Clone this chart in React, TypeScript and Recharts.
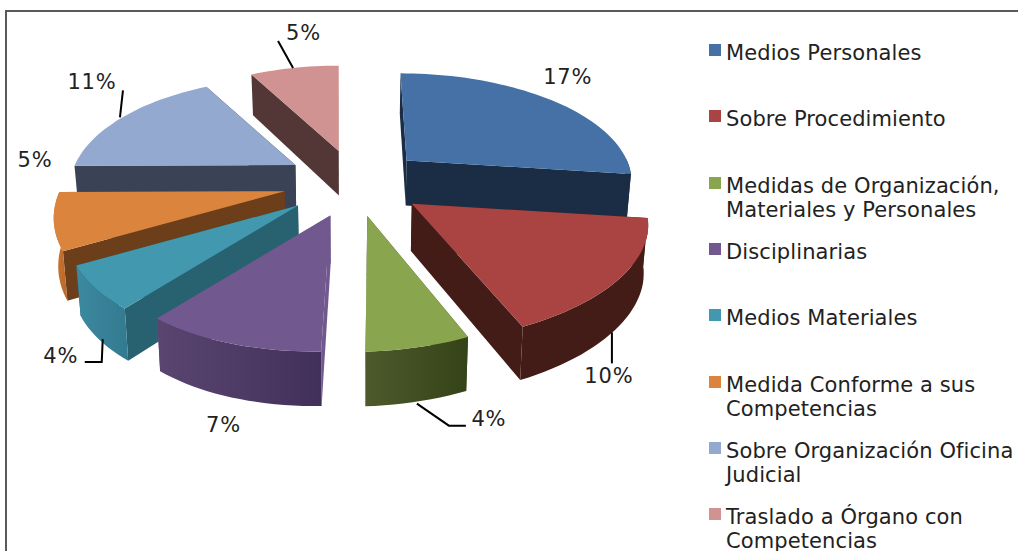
import { PieChart, Pie, Legend } from 'recharts';

const CATEGORIES = [
  'Medios Personales',
  'Sobre Procedimiento',
  'Medidas de Organización, Materiales y Personales',
  'Disciplinarias',
  'Medios Materiales',
  'Medida Conforme a sus Competencias',
  'Sobre Organización Oficina Judicial',
  'Traslado a Órgano con Competencias',
];
const PERCENTS = [17, 10, 4, 7, 4, 5, 11, 5];

const TOP_COLORS = ['#4571A7', '#A94442', '#89A54E', '#71588F', '#4198AF', '#DB843D', '#93A9CF', '#D19392'];
const CUT_COLORS = ['#1A2D45', '#431C18', '#3E4A22', '#71588F', '#28616F', '#6C3F1A', '#3A4256', '#533737'];
const RIM_LIGHT = ['#1A2D45', '#431C18', '#4C5A2C', '#5A4571', '#3C89A0', '#C9762F', '#3A4256', '#533737'];
const RIM_DARK = ['#1A2D45', '#431C18', '#354318', '#41305A', '#337A90', '#B8692A', '#3A4256', '#533737'];

// slices are painted back to front
const PAINT_ORDER = [7, 6, 0, 5, 1, 4, 3, 2];

// small per-slice corrections of the 3d look: shift of the tip, radius factor,
// lean of the far rim, and degrees taken off the start / added to the end
const SLICE_TUNE = [
  { dx: 2, dy: 0, scale: 0.98, back: 6, start: 0, end: 0 },
  { dx: 3, dy: 1, scale: 1.03, back: 0, start: 0, end: 0 },
  { dx: -2, dy: 0, scale: 1, back: 0, start: 1.5, end: 0 },
  { dx: -1, dy: 0, scale: 1, back: 0, start: 1.5, end: 0 },
  { dx: -1.5, dy: 0, scale: 1, back: 0, start: 0, end: 0 },
  { dx: 0, dy: -1, scale: 1, back: 0, start: 0, end: 1 },
  { dx: 4, dy: -1, scale: 0.98, back: 0, start: 1, end: 0 },
  { dx: 4, dy: 1, scale: 0.96, back: 0, start: 0, end: 0 },
];

// label position relative to the rim at mid angle, plus optional leader line
const LABEL_PLACES: { dx: number; dy: number; leader?: number[][] }[] = [
  { dx: 15, dy: -21 },
  { dx: -8, dy: 102, leader: [[-5, 58], [-5, 89]] },
  { dx: 50, dy: 72, leader: [[-22, 57], [10, 79], [27, 79]] },
  { dx: -25, dy: 81 },
  { dx: -43, dy: 68, leader: [[-1, 51], [-2, 74], [-19, 74]] },
  { dx: -20, dy: -63 },
  { dx: -23, dy: -35, leader: [[5, 0], [8, -27]] },
  { dx: 15, dy: -30, leader: [[4.5, 4.6], [-10.5, -22.4]] },
];

const pieData = CATEGORIES.map((name, i) => ({ name, value: PERCENTS[i], fill: TOP_COLORS[i] }));

const FONT = '"DejaVu Sans", Verdana, sans-serif';
const TILT = 0.478;
const PERSPECTIVE = 0.209;
const EXPLODE_X = 70;
const EXPLODE_Y = 34;
const LEAN = 0.985;
const FRONT_SKEW = 16;

type Pt = [number, number];

// pie angle (math convention) to clockwise-from-north radians
const toRad = (angle: number) => ((90 - angle) * Math.PI) / 180;

function apexOf(cx: number, cy: number, midAngle: number): Pt {
  const a = toRad(midAngle);
  return [cx + EXPLODE_X * Math.sin(a), cy - EXPLODE_Y * Math.cos(a)];
}

function rimPoint(apex: Pt, radius: number, angle: number, skew = 0, back = 0): Pt {
  const a = toRad(angle);
  const x = Math.sin(a);
  const y = Math.cos(a);
  const w = 1 + PERSPECTIVE * y;
  const lean = y < 0 ? skew * y * y : back * y * y;
  return [apex[0] + (radius * x) / w - lean, apex[1] - (radius * TILT * y) / w];
}

const drop = (cx: number, p: Pt): Pt => [cx + (p[0] - cx) * LEAN, p[1] + 37 + 0.05 * p[1]];
const toPath = (pts: Pt[]) => 'M' + pts.map((p) => `${p[0].toFixed(1)},${p[1].toFixed(1)}`).join('L') + 'Z';

function Slice(props: any) {
  const { cx, cy, outerRadius, name } = props;
  const i = CATEGORIES.indexOf(name);
  const tune = SLICE_TUNE[i];
  const mid = (props.startAngle + props.endAngle) / 2;
  const startAngle = props.startAngle - tune.start;
  const endAngle = props.endAngle - tune.end;
  const base = apexOf(cx, cy, mid);
  const apex: Pt = [base[0] + tune.dx, base[1] + tune.dy];
  const radius = outerRadius * tune.scale;

  const arc: Pt[] = [];
  const steps = Math.max(4, Math.ceil(Math.abs(startAngle - endAngle) / 2));
  for (let s = 0; s <= steps; s++) {
    arc.push(rimPoint(apex, radius, startAngle + ((endAngle - startAngle) * s) / steps, FRONT_SKEW, tune.back));
  }
  // only the part of the rim that faces the viewer gets a wall
  const front = arc.filter((p, s) => {
    const a = startAngle + ((endAngle - startAngle) * s) / steps;
    return Math.sin((a * Math.PI) / 180) < 0.02;
  });

  const first = arc[0];
  const last = arc[arc.length - 1];
  const gradId = `rim-${i}`;

  return (
    <g>
      <defs>
        <linearGradient id={gradId} x1="0" x2="1" y1="0" y2="0">
          <stop offset="0%" stopColor={RIM_LIGHT[i]} />
          <stop offset="100%" stopColor={RIM_DARK[i]} />
        </linearGradient>
      </defs>
      <path d={toPath([apex, first, drop(cx, first), drop(cx, apex)])} fill={CUT_COLORS[i]} />
      <path d={toPath([apex, last, drop(cx, last), drop(cx, apex)])} fill={CUT_COLORS[i]} />
      {front.length > 1 && (
        <path d={toPath([...front, ...front.slice().reverse().map((p) => drop(cx, p))])} fill={`url(#${gradId})`} />
      )}
      <path d={toPath([apex, ...arc])} fill={TOP_COLORS[i]} />
    </g>
  );
}

function PercentLabel(props: any) {
  const { cx, cy, outerRadius, midAngle, index, value } = props;
  const place = LABEL_PLACES[index];
  const rim = rimPoint(apexOf(cx, cy, midAngle), outerRadius, midAngle);
  return (
    <g>
      {place.leader && (
        <polyline
          points={place.leader.map((p) => `${rim[0] + p[0]},${rim[1] + p[1]}`).join(' ')}
          fill="none"
          stroke="#000"
          strokeWidth={2}
        />
      )}
      <text
        x={rim[0] + place.dx}
        y={rim[1] + place.dy}
        textAnchor="middle"
        dominantBaseline="central"
        fontFamily={FONT}
        fontSize={21}
        letterSpacing={0.8}
        fill="#222"
      >
        {value}%
      </text>
    </g>
  );
}

function ChartLegend({ payload }: any) {
  const items = (payload || []).slice(0, CATEGORIES.length);
  return (
    <div style={{ position: 'relative', width: 310, fontFamily: FONT, fontSize: 21, letterSpacing: 0.1, lineHeight: '24px', color: '#222' }}>
      {items.map((item: any, i: number) => (
        <div key={i} style={{ position: 'absolute', left: 0, top: i * 66.3, width: 310, paddingLeft: 18, boxSizing: 'border-box' }}>
          <span style={{ position: 'absolute', left: 1, top: 3, width: 12, height: 12, background: TOP_COLORS[i] }} />
          {item.value}
        </div>
      ))}
    </div>
  );
}

export default function App() {
  return (
    <div style={{ position: 'absolute', left: 0, top: 0, width: 1018, height: 551, overflow: 'hidden', background: '#fff' }}>
      <div
        style={{
          position: 'absolute',
          left: 5,
          top: 10,
          width: 1013,
          height: 541,
          borderTop: '2px solid #5a5a5a',
          borderLeft: '2px solid #5a5a5a',
        }}
      />
      <PieChart width={1018} height={551} margin={{ top: 0, right: 0, bottom: 0, left: 0 }} style={{ position: 'absolute', left: 0, top: 0 }}>
        {PAINT_ORDER.map((idx) => (
          <Pie
            key={idx}
            data={pieData}
            dataKey="value"
            nameKey="name"
            cx={352}
            cy={183}
            innerRadius={0}
            outerRadius={225}
            startAngle={90}
            endAngle={-270}
            stroke="none"
            isAnimationActive={false}
            shape={(p: any) => (p.name === CATEGORIES[idx] ? <Slice {...p} /> : <g />)}
          />
        ))}
        <Pie
          data={pieData}
          dataKey="value"
          nameKey="name"
          cx={352}
          cy={183}
          innerRadius={0}
          outerRadius={225}
          startAngle={90}
          endAngle={-270}
          stroke="none"
          legendType="none"
          isAnimationActive={false}
          shape={() => <g />}
          label={(p: any) => <PercentLabel {...p} />}
          labelLine={false}
        />
        <Legend content={<ChartLegend />} itemSorter={null} wrapperStyle={{ left: 708, top: 41, width: 310 }} />
      </PieChart>
    </div>
  );
}
